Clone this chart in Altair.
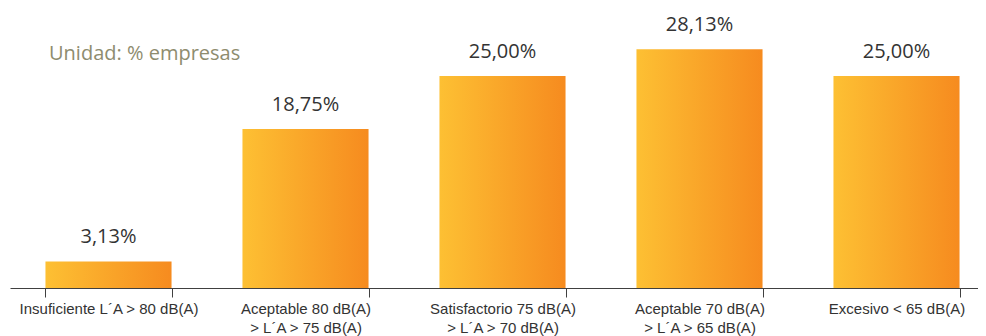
import altair as alt
import pandas as pd

categories = [
    "Insuficiente L´A > 80 dB(A)",
    "Aceptable 80 dB(A)\n> L´A > 75 dB(A)",
    "Satisfactorio 75 dB(A)\n> L´A > 70 dB(A)",
    "Aceptable 70 dB(A)\n> L´A > 65 dB(A)",
    "Excesivo < 65 dB(A)",
]
values = [3.13, 18.75, 25.00, 28.13, 25.00]
unit_note = "Unidad: % empresas"

df = pd.DataFrame({"cat": categories, "v": values})

x = alt.X(
    "cat:N",
    sort=None,
    title=None,
    scale=alt.Scale(range=[0, 985], paddingInner=0.36, paddingOuter=0.18),
    axis=alt.Axis(
        labelAngle=0,
        labelLimit=0,
        labelExpr="split(datum.label, '\\n')",
        labelFont="Liberation Sans",
        labelFontSize=15,
        labelColor="#333333",
        labelLineHeight=19,
        labelBaseline="top",
        labelPadding=4,
        tickBand="extent",
        tickSize=9,
        tickColor="#404040",
        domainColor="#404040",
        domainWidth=1,
        tickWidth=1,
    ),
)
y = alt.Y("v:Q", scale=alt.Scale(domain=[0, 33.0], nice=False), axis=None)

gradient = alt.LinearGradient(
    gradient="linear",
    stops=[
        alt.GradientStop(color="#FDC033", offset=0),
        alt.GradientStop(color="#F68B1F", offset=1),
    ],
    x1=0, x2=1, y1=0, y2=0,
)

base = alt.Chart(df)
bars = base.mark_bar(color=gradient).encode(x=x, y=y)
labels = base.transform_calculate(
    lab="replace(format(datum.v, '.2f'), '.', ',') + '%'"
).mark_text(
    font="Open Sans", fontSize=20, color="#333333", dy=-18, baseline="alphabetic"
).encode(x=x, y=y, text="lab:N")

note = alt.Chart(pd.DataFrame({"t": [unit_note]})).mark_text(
    font="Open Sans", fontSize=20, color="#8E8C6E", align="left", baseline="alphabetic"
).encode(x=alt.value(39), y=alt.value(52), text="t:N")

chart = alt.layer(bars, labels, note).properties(
    width=968,
    height=280,
    padding={"left": 2, "right": 0, "top": 0, "bottom": 48},
    autosize=alt.AutoSizeParams(type="none"),
).configure_view(stroke=None)

chart.save("out.html", embed_options={"renderer": "svg", "actions": False})
